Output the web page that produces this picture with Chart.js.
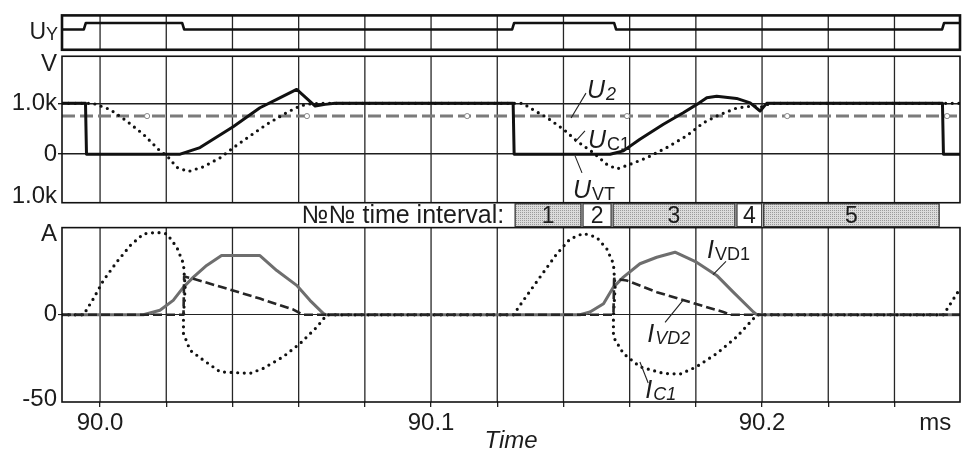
<!DOCTYPE html>
<html><head><meta charset="utf-8">
<script src="https://cdn.jsdelivr.net/npm/chart.js@4.4.1/dist/chart.umd.min.js"></script>
<style>html,body{margin:0;padding:0;background:#fff;}canvas{display:block;}</style>
</head><body>
<canvas id="c" width="963" height="456" style="width:963px;height:456px"></canvas>
<script>
// ---------- data (time in ms) ----------
const X_MIN = 89.9885, X_MAX = 90.2598;
const xTickValues = [90.00, 90.02, 90.04, 90.06, 90.08, 90.10, 90.12, 90.14, 90.16, 90.18, 90.20, 90.22, 90.24, 90.2523];
const xTickLabels = ['90.0', '', '', '', '', '90.1', '', '', '', '', '90.2', '', '', 'ms'];

const vTickValues = [-837, 0, 1000, 1770];
const vTickLabels = ['1.0k', '0', '1.0k', 'V'];
const aTickValues = [-48.3, 0, 46];
const aTickLabels = ['-50', '0', 'A'];

// control signal U_Y
const uyT = [89.9885, 89.9951, 89.9957, 90.0248, 90.0254, 90.1245, 90.1251, 90.1553, 90.1559, 90.2544, 90.2550, 90.2598];
const uyV = [0.59, 0.59, 0.78, 0.78, 0.59, 0.59, 0.78, 0.78, 0.59, 0.59, 0.78, 0.78];

// U_2 (V)
const u2T = [89.9885, 90.0142, 90.0625, 90.1109, 90.1592, 90.2076, 90.2559, 90.2598];
const u2V = [750, 750, 750, 750, 750, 750, 750, 750];

// U_VT (V)
const uvtT = [89.9885, 89.9956, 89.9959, 90.0242, 90.0302, 90.0402, 90.0483, 90.0534, 90.0594, 90.0650, 90.0680, 90.0710,
  90.1248, 90.1251, 90.1541, 90.1581, 90.1631, 90.1702, 90.1762, 90.1803, 90.1833, 90.1863, 90.1923, 90.1964, 90.1994, 90.2014,
  90.2545, 90.2548, 90.2598];
const uvtV = [1000, 1000, 0, 0, 130, 540, 914, 1078, 1274, 947, 980, 1000,
  1000, 0, 0, 65, 294, 588, 816, 980, 1110, 1140, 1098, 1010, 850, 1000,
  1000, 0, 0];

// U_C1 (V)
const uc1T = [89.9885, 89.9979, 90.0030, 90.0081, 90.0131, 90.0181, 90.0202, 90.0232, 90.0267, 90.0311, 90.0363, 90.0403,
  90.0453, 90.0504, 90.0564, 90.0604, 90.0634, 90.0665, 90.1278, 90.1299, 90.1350, 90.1400, 90.1440, 90.1490, 90.1531,
  90.1561, 90.1601, 90.1652, 90.1712, 90.1772, 90.1823, 90.1873, 90.1924, 90.1974, 90.2000, 90.2024, 90.2598];
const uc1V = [1000, 1000, 880, 650, 390, 65, -30, -260, -340, -250, -70, 130,
  360, 590, 820, 950, 990, 1000, 1000, 910, 720, 490, 260, 30, -200,
  -290, -200, -70, 130, 360, 620, 780, 910, 950, 930, 1000, 1000];

// I_C1 (A)
const ic1T = [89.9885, 89.9950, 89.9980, 90.0010, 90.0050, 90.0091, 90.0131, 90.0171, 90.0202, 90.0232, 90.0252, 90.0257,
  90.0252, 90.0252, 90.0272, 90.0312, 90.0363, 90.0453, 90.0493, 90.0553, 90.0604, 90.0655, 90.0685, 90.1249, 90.1279,
  90.1329, 90.1380, 90.1420, 90.1460, 90.1500, 90.1531, 90.1551, 90.1556, 90.1551, 90.1551, 90.1581, 90.1631, 90.1702,
  90.1752, 90.1802, 90.1863, 90.1923, 90.1974, 90.1985, 90.2548, 90.2598];
const ic1V = [0, 0, 9.3, 19.7, 30.2, 39.7, 46.4, 47.3, 46.4, 38.7, 29.3, 15.9,
  -1.2, -10.7, -20.3, -26, -32.7, -33.6, -30.7, -24.1, -16.5, -7, 0, 0, 8.3,
  21.6, 35, 43.5, 46.7, 44.5, 37.8, 29.3, 15.9, -1.2, -12.7, -22.2, -29.8, -33.6,
  -34, -29.8, -22.2, -12.7, -2.2, 0, 0, 15];

// I_VD1 (A)
const ivd1T = [89.9885, 90.0131, 90.0181, 90.0221, 90.0252, 90.0282, 90.0322, 90.0367, 90.0483, 90.0534, 90.0594, 90.0634,
  90.0675, 90.0683, 90.1450, 90.1480, 90.1521, 90.1551, 90.1581, 90.1631, 90.1682, 90.1737, 90.1802, 90.1863, 90.1913,
  90.1974, 90.1985, 90.2598];
const ivd1V = [0, 0, 2.6, 8.3, 15.9, 21.6, 28.3, 34, 34, 25.4, 16.9, 8.3,
  0.7, 0, 0, 1.6, 6.4, 15.9, 21.6, 29.3, 33, 35.9, 30.2, 22.6, 13,
  1.6, 0, 0];

// I_VD2 (A)
const ivd2T = [89.9885, 90.0252, 90.0254, 90.0282, 90.0383, 90.0483, 90.0584, 90.0613, 90.1551, 90.1553, 90.1591, 90.1682,
  90.1782, 90.1883, 90.1906, 90.2598];
const ivd2V = [0, 0, 22, 20.7, 15, 9.3, 3, 0, 0, 20.7, 19.7, 13, 7.3, 1.6, 0, 0];

// time intervals
const intervalBounds = [90.1251, 90.1456, 90.1547, 90.1921, 90.2002, 90.2538];
const intervalLabels = ['1', '2', '3', '4', '5'];
const intervalShaded = [true, false, true, false, true];
const intervalTitle = '№№ time interval:';

// curve labels (anchored in data units)
const curveLabels = [
  {axis: 'yV', t: 90.1471, v: 1104, main: 'U', sub: '2', subItalic: true, lead: [[90.1423, 712], [90.1468, 1202]]},
  {axis: 'yV', t: 90.1474, v: 124, main: 'U', sub: 'C1', subItalic: false, lead: [[90.1435, 241], [90.1465, 457]]},
  {axis: 'yV', t: 90.1429, v: -857, main: 'U', sub: 'VT', subItalic: false, lead: [[90.1435, -33], [90.1456, -367]]},
  {axis: 'yA', t: 90.1834, v: 32.3, main: 'I', sub: 'VD1', subItalic: false, lead: [[90.1891, 30.6], [90.1852, 23.1]]},
  {axis: 'yA', t: 90.1653, v: -15.7, main: 'I', sub: 'VD2', subItalic: true, lead: [[90.1761, 8.3], [90.1707, -4.3]]},
  {axis: 'yA', t: 90.1647, v: -47.7, main: 'I', sub: 'C1', subItalic: true, lead: [[90.1631, -27.1], [90.1656, -39.1]]}
];

// ---------- drawing ----------
const FONT = "'Liberation Sans', Arial, Helvetica, sans-serif";
const INK = '#1c1c1c';
const pts = (ts, vs) => ts.map((t, i) => ({x: t, y: vs[i]}));
const dotted = {borderDash: [0, 6.6], borderCapStyle: 'round', borderWidth: 3.2, borderColor: '#111'};

function makePattern(ctx) {
  const c = document.createElement('canvas'); c.width = 2; c.height = 2;
  const g = c.getContext('2d');
  g.fillStyle = '#dcdcdc'; g.fillRect(0, 0, 2, 2);
  g.fillStyle = '#9c9c9c'; g.fillRect(0, 0, 1, 1);
  return ctx.createPattern(c, 'repeat');
}

const panelPlugin = {
  id: 'panels',
  beforeDatasetsDraw(chart) {
    const {ctx, scales} = chart;
    const xs = scales.x;
    ctx.save();
    ctx.strokeStyle = '#262626'; ctx.lineWidth = 1.3;
    for (const id of ['yU', 'yV', 'yA']) {
      const ys = scales[id];
      xTickValues.forEach((v, i) => {
        if (xTickLabels[i] === 'ms') return;
        const px = xs.getPixelForValue(v);
        ctx.beginPath(); ctx.moveTo(px, ys.top); ctx.lineTo(px, ys.bottom); ctx.stroke();
      });
    }
    ctx.restore();
  },
  afterDatasetsDraw(chart) {
    const {ctx, scales, chartArea} = chart;
    const xs = scales.x, yU = scales.yU, yV = scales.yV, yA = scales.yA, yI = scales.yI;
    const L = chartArea.left, R = chartArea.right;
    ctx.save();
    // frames
    ctx.strokeStyle = '#111';
    ctx.lineWidth = 2.6; ctx.strokeRect(L, yU.top, R - L, yU.bottom - yU.top);
    ctx.lineWidth = 1.6; ctx.strokeRect(L, yV.top, R - L, yV.bottom - yV.top);
    ctx.strokeRect(L, yA.top, R - L, yA.bottom - yA.top);

    // U_Y label
    ctx.fillStyle = INK; ctx.textBaseline = 'alphabetic'; ctx.textAlign = 'left';
    ctx.font = '23px ' + FONT;
    const uw = ctx.measureText('U').width;
    ctx.font = '18px ' + FONT;
    const yw = ctx.measureText('Y').width;
    const uyBase = yU.top + 24;
    const ux = L - 4 - yw - uw;
    ctx.font = '23px ' + FONT; ctx.fillText('U', ux, uyBase);
    ctx.font = '18px ' + FONT; ctx.fillText('Y', ux + uw, uyBase + 1);

    // interval row
    const pat = makePattern(ctx);
    const top = yI.top + 1, bot = yI.bottom - 1;
    ctx.font = '25px ' + FONT; ctx.textAlign = 'right'; ctx.textBaseline = 'middle';
    ctx.fillStyle = INK;
    const x0 = xs.getPixelForValue(intervalBounds[0]);
    ctx.fillText(intervalTitle, x0 - 10, (top + bot) / 2 + 1);
    ctx.lineWidth = 1.3; ctx.strokeStyle = '#333';
    for (let i = 0; i < intervalLabels.length; i++) {
      const a = xs.getPixelForValue(intervalBounds[i]) + 1;
      const b = xs.getPixelForValue(intervalBounds[i + 1]) - 1;
      ctx.fillStyle = intervalShaded[i] ? pat : '#fff';
      ctx.fillRect(a, top, b - a, bot - top);
      ctx.strokeRect(a, top, b - a, bot - top);
      ctx.fillStyle = INK; ctx.textAlign = 'center';
      ctx.font = '23px ' + FONT;
      ctx.fillText(intervalLabels[i], (a + b) / 2, (top + bot) / 2 + 1);
    }

    // curve labels
    ctx.textAlign = 'left'; ctx.textBaseline = 'alphabetic';
    for (const lab of curveLabels) {
      const ys = scales[lab.axis];
      ctx.strokeStyle = '#222'; ctx.lineWidth = 1.1;
      ctx.beginPath();
      ctx.moveTo(xs.getPixelForValue(lab.lead[0][0]), ys.getPixelForValue(lab.lead[0][1]));
      ctx.lineTo(xs.getPixelForValue(lab.lead[1][0]), ys.getPixelForValue(lab.lead[1][1]));
      ctx.stroke();
      const px = xs.getPixelForValue(lab.t), py = ys.getPixelForValue(lab.v);
      ctx.fillStyle = INK;
      ctx.font = 'italic 25px ' + FONT;
      ctx.fillText(lab.main, px, py);
      const mw = ctx.measureText(lab.main).width;
      ctx.font = (lab.subItalic ? 'italic ' : '') + '18px ' + FONT;
      ctx.fillText(lab.sub, px + mw + 1, py + 2);
    }
    ctx.restore();
  }
};

const hidden = (w) => ({type: 'linear', position: 'left', stack: 'p', stackWeight: w, min: 0, max: 1,
  ticks: {display: false}, grid: {display: false}, border: {display: false}, afterFit: s => { s.width = 62; }});

const chart = new Chart(document.getElementById('c'), {
  type: 'line',
  data: {
    datasets: [
      {label: 'U_VT', data: pts(uvtT, uvtV), yAxisID: 'yV', borderColor: '#111', borderWidth: 3},
      Object.assign({label: 'U_C1', data: pts(uc1T, uc1V), yAxisID: 'yV'}, dotted),
      {label: 'U_2', data: pts(u2T, u2V), yAxisID: 'yV', borderColor: '#7b7b7b', borderWidth: 3, borderDash: [13, 5],
        pointRadius: c => (c.index > 0 && c.index < u2T.length - 1) ? 2.6 : 0,
        pointBackgroundColor: '#fff', pointBorderColor: '#888', pointBorderWidth: 1},
      {label: 'U_Y', data: pts(uyT, uyV), yAxisID: 'yU', borderColor: '#111', borderWidth: 2.6},
      {label: 'I_VD2', data: pts(ivd2T, ivd2V), yAxisID: 'yA', borderColor: '#262626', borderWidth: 2.6, borderDash: [9, 4]},
      Object.assign({label: 'I_C1', data: pts(ic1T, ic1V), yAxisID: 'yA'}, dotted),
      {label: 'I_VD1', data: pts(ivd1T, ivd1V), yAxisID: 'yA', borderColor: '#6e6e6e', borderWidth: 3}
    ]
  },
  options: {
    responsive: false, animation: false, devicePixelRatio: 1,
    layout: {padding: {top: 14, right: 3, bottom: 0, left: 0}},
    plugins: {legend: {display: false}, tooltip: {enabled: false}},
    elements: {point: {radius: 0}, line: {tension: 0, borderJoinStyle: 'round', fill: false}},
    scales: {
      x: {
        type: 'linear', position: 'bottom', min: X_MIN, max: X_MAX,
        afterBuildTicks: s => { s.ticks = xTickValues.map(v => ({value: v})); },
        ticks: {autoSkip: false, maxRotation: 0, minRotation: 0, padding: 2, color: INK,
          font: {family: FONT, size: 24}, callback: (v, i) => xTickLabels[i]},
        grid: {drawOnChartArea: false, drawTicks: true, tickLength: 5, lineWidth: 1.3,
          color: c => xTickLabels[c.index] === 'ms' ? 'rgba(0,0,0,0)' : '#222'},
        border: {display: false},
        title: {display: true, text: 'Time', color: INK, font: {family: FONT, size: 24, style: 'italic'}, padding: {top: 0, bottom: 0}},
        afterFit: s => { s.height = 54; }
      },
      yA: {
        type: 'linear', position: 'left', stack: 'p', stackWeight: 175, min: -50, max: 50,
        afterBuildTicks: s => { s.ticks = aTickValues.map(v => ({value: v})); },
        ticks: {autoSkip: false, padding: 1, color: INK, font: {family: FONT, size: 24}, callback: (v, i) => aTickLabels[i]},
        grid: {tickLength: 4, lineWidth: 1.1, color: c => aTickLabels[c.index] === '0' ? '#222' : 'rgba(0,0,0,0)'},
        border: {display: false},
        afterFit: s => { s.width = 62; }
      },
      yI: hidden(25),
      yV: {
        type: 'linear', position: 'left', stack: 'p', stackWeight: 147, min: -955, max: 1927,
        afterBuildTicks: s => { s.ticks = vTickValues.map(v => ({value: v})); },
        ticks: {autoSkip: false, padding: 1, color: INK, font: {family: FONT, size: 24}, callback: (v, i) => vTickLabels[i]},
        grid: {tickLength: 4, lineWidth: 1.4, color: c => (vTickValues[c.index] === 0 || vTickValues[c.index] === 1000) ? '#1e1e1e' : 'rgba(0,0,0,0)'},
        border: {display: false},
        afterFit: s => { s.width = 62; }
      },
      yG: hidden(6.5),
      yU: hidden(34.5)
    }
  },
  plugins: [panelPlugin]
});
</script>
</body></html>
